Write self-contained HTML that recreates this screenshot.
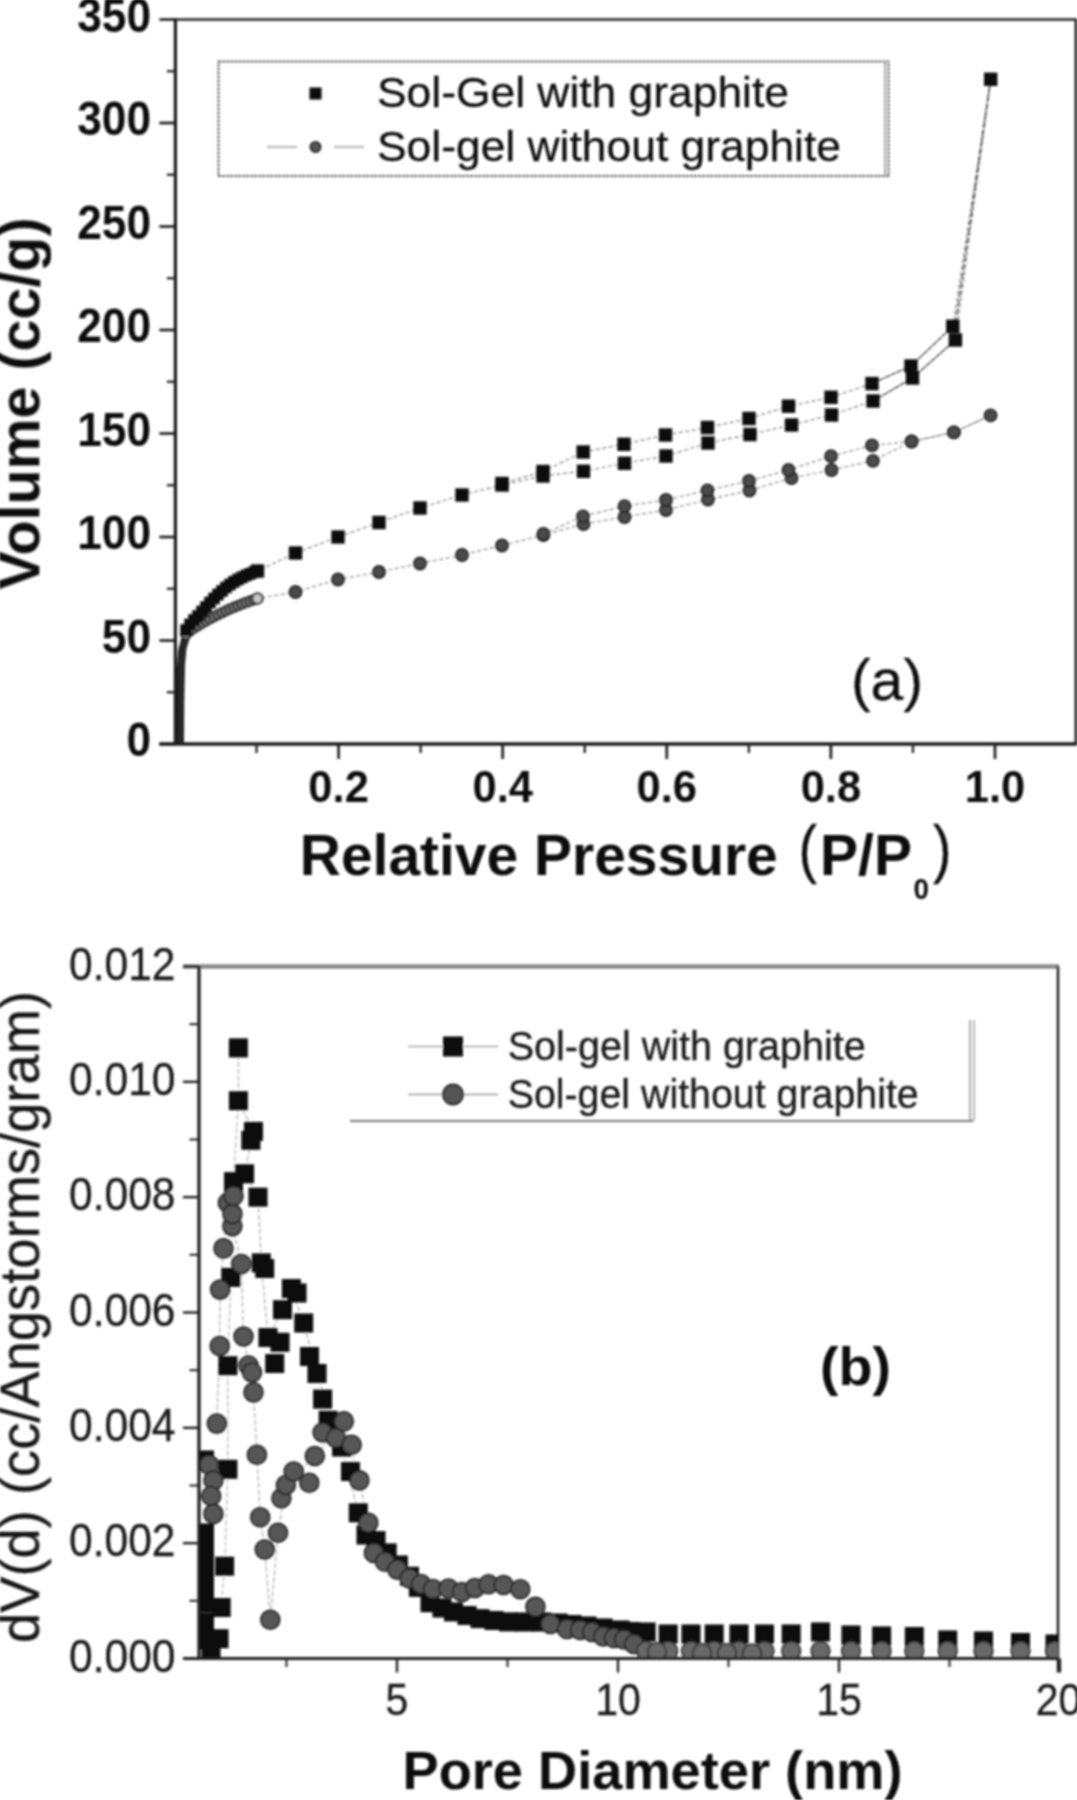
<!DOCTYPE html>
<html lang="en">
<head>
<meta charset="utf-8">
<title>Nitrogen sorption isotherms and pore size distribution</title>
<style>
html, body { margin: 0; padding: 0; background: #ffffff; }
body { width: 1077px; height: 1800px; overflow: hidden; }
svg { display: block; font-family: "Liberation Sans", Arial, Helvetica, sans-serif; }
</style>
</head>
<body>
<svg width="1077" height="1800" viewBox="0 0 1077 1800">
<defs><filter id="soft" x="0" y="0" width="1077" height="1800" filterUnits="userSpaceOnUse"><feGaussianBlur stdDeviation="1"/></filter></defs>
<rect x="0" y="0" width="1077" height="1800" fill="#ffffff"/>
<g filter="url(#soft)">
<g id="chart-a">
<line x1="175.4" y1="19.5" x2="1077.0" y2="19.5" stroke="#2a2a2a" stroke-width="2.6"/>
<line x1="1076.0" y1="19.5" x2="1076.0" y2="744.0" stroke="#2a2a2a" stroke-width="3"/>
<line x1="175.4" y1="18.5" x2="175.4" y2="745.0" stroke="#1a1a1a" stroke-width="3.2"/>
<line x1="159.4" y1="744.0" x2="1077.0" y2="744.0" stroke="#1a1a1a" stroke-width="3.4"/>
<line x1="159.4" y1="744.0" x2="175.4" y2="744.0" stroke="#1a1a1a" stroke-width="2.6"/>
<line x1="166.9" y1="692.25" x2="175.4" y2="692.25" stroke="#2a2a2a" stroke-width="2.4"/>
<line x1="159.4" y1="640.5" x2="175.4" y2="640.5" stroke="#1a1a1a" stroke-width="2.6"/>
<line x1="166.9" y1="588.75" x2="175.4" y2="588.75" stroke="#2a2a2a" stroke-width="2.4"/>
<line x1="159.4" y1="537.0" x2="175.4" y2="537.0" stroke="#1a1a1a" stroke-width="2.6"/>
<line x1="166.9" y1="485.25" x2="175.4" y2="485.25" stroke="#2a2a2a" stroke-width="2.4"/>
<line x1="159.4" y1="433.5" x2="175.4" y2="433.5" stroke="#1a1a1a" stroke-width="2.6"/>
<line x1="166.9" y1="381.75" x2="175.4" y2="381.75" stroke="#2a2a2a" stroke-width="2.4"/>
<line x1="159.4" y1="330.00000000000006" x2="175.4" y2="330.00000000000006" stroke="#1a1a1a" stroke-width="2.6"/>
<line x1="166.9" y1="278.25000000000006" x2="175.4" y2="278.25000000000006" stroke="#2a2a2a" stroke-width="2.4"/>
<line x1="159.4" y1="226.5" x2="175.4" y2="226.5" stroke="#1a1a1a" stroke-width="2.6"/>
<line x1="166.9" y1="174.75" x2="175.4" y2="174.75" stroke="#2a2a2a" stroke-width="2.4"/>
<line x1="159.4" y1="123.0" x2="175.4" y2="123.0" stroke="#1a1a1a" stroke-width="2.6"/>
<line x1="166.9" y1="71.25" x2="175.4" y2="71.25" stroke="#2a2a2a" stroke-width="2.4"/>
<line x1="159.4" y1="19.5" x2="175.4" y2="19.5" stroke="#1a1a1a" stroke-width="2.6"/>
<line x1="256.55" y1="744.0" x2="256.55" y2="753.0" stroke="#2a2a2a" stroke-width="2.4"/>
<line x1="338.6" y1="744.0" x2="338.6" y2="759.0" stroke="#1a1a1a" stroke-width="2.6"/>
<line x1="420.65" y1="744.0" x2="420.65" y2="753.0" stroke="#2a2a2a" stroke-width="2.4"/>
<line x1="502.70000000000005" y1="744.0" x2="502.70000000000005" y2="759.0" stroke="#1a1a1a" stroke-width="2.6"/>
<line x1="584.75" y1="744.0" x2="584.75" y2="753.0" stroke="#2a2a2a" stroke-width="2.4"/>
<line x1="666.8" y1="744.0" x2="666.8" y2="759.0" stroke="#1a1a1a" stroke-width="2.6"/>
<line x1="748.8499999999999" y1="744.0" x2="748.8499999999999" y2="753.0" stroke="#2a2a2a" stroke-width="2.4"/>
<line x1="830.9000000000001" y1="744.0" x2="830.9000000000001" y2="759.0" stroke="#1a1a1a" stroke-width="2.6"/>
<line x1="912.95" y1="744.0" x2="912.95" y2="753.0" stroke="#2a2a2a" stroke-width="2.4"/>
<line x1="995.0" y1="744.0" x2="995.0" y2="759.0" stroke="#1a1a1a" stroke-width="2.6"/>
<text x="151" y="756.0" font-size="48" font-weight="bold" text-anchor="end" textLength="24.6" lengthAdjust="spacingAndGlyphs" fill="#111" stroke="#111" stroke-width="0">0</text>
<text x="151" y="652.5" font-size="48" font-weight="bold" text-anchor="end" textLength="49.2" lengthAdjust="spacingAndGlyphs" fill="#111" stroke="#111" stroke-width="0">50</text>
<text x="151" y="549.0" font-size="48" font-weight="bold" text-anchor="end" textLength="73.8" lengthAdjust="spacingAndGlyphs" fill="#111" stroke="#111" stroke-width="0">100</text>
<text x="151" y="445.5" font-size="48" font-weight="bold" text-anchor="end" textLength="73.8" lengthAdjust="spacingAndGlyphs" fill="#111" stroke="#111" stroke-width="0">150</text>
<text x="151" y="342.00000000000006" font-size="48" font-weight="bold" text-anchor="end" textLength="73.8" lengthAdjust="spacingAndGlyphs" fill="#111" stroke="#111" stroke-width="0">200</text>
<text x="151" y="238.5" font-size="48" font-weight="bold" text-anchor="end" textLength="73.8" lengthAdjust="spacingAndGlyphs" fill="#111" stroke="#111" stroke-width="0">250</text>
<text x="151" y="135.0" font-size="48" font-weight="bold" text-anchor="end" textLength="73.8" lengthAdjust="spacingAndGlyphs" fill="#111" stroke="#111" stroke-width="0">300</text>
<text x="151" y="31.5" font-size="48" font-weight="bold" text-anchor="end" textLength="73.8" lengthAdjust="spacingAndGlyphs" fill="#111" stroke="#111" stroke-width="0">350</text>
<text x="338.6" y="801.5" font-size="44.5" font-weight="bold" text-anchor="middle" textLength="60.5" lengthAdjust="spacingAndGlyphs" fill="#111" stroke="#111" stroke-width="0">0.2</text>
<text x="502.70000000000005" y="801.5" font-size="44.5" font-weight="bold" text-anchor="middle" textLength="60.5" lengthAdjust="spacingAndGlyphs" fill="#111" stroke="#111" stroke-width="0">0.4</text>
<text x="666.8" y="801.5" font-size="44.5" font-weight="bold" text-anchor="middle" textLength="60.5" lengthAdjust="spacingAndGlyphs" fill="#111" stroke="#111" stroke-width="0">0.6</text>
<text x="830.9000000000001" y="801.5" font-size="44.5" font-weight="bold" text-anchor="middle" textLength="60.5" lengthAdjust="spacingAndGlyphs" fill="#111" stroke="#111" stroke-width="0">0.8</text>
<text x="995.0" y="801.5" font-size="44.5" font-weight="bold" text-anchor="middle" textLength="60.5" lengthAdjust="spacingAndGlyphs" fill="#111" stroke="#111" stroke-width="0">1.0</text>
<text transform="translate(39.3,403.5) rotate(-90)" font-size="57" textLength="372" lengthAdjust="spacingAndGlyphs" font-weight="bold" text-anchor="middle" fill="#111" stroke="none">Volume (cc/g)</text>
<text x="299.8" y="875" font-size="57" font-weight="bold" textLength="478" lengthAdjust="spacingAndGlyphs" fill="#111" stroke="#111" stroke-width="0">Relative Pressure</text>
<text x="798.5" y="871" font-size="64" textLength="18.5" lengthAdjust="spacingAndGlyphs" fill="#111" stroke="#111" stroke-width="0.3">(</text>
<text x="820" y="875" font-size="57" font-weight="bold" textLength="92" lengthAdjust="spacingAndGlyphs" fill="#111" stroke="#111" stroke-width="0">P/P</text>
<text x="913.5" y="898.5" font-size="30" font-weight="bold" textLength="15.5" lengthAdjust="spacingAndGlyphs" fill="#111" stroke="#111" stroke-width="0">0</text>
<text x="933" y="871" font-size="64" textLength="18.5" lengthAdjust="spacingAndGlyphs" fill="#111" stroke="#111" stroke-width="0.3">)</text>
<text x="851" y="699.5" font-size="57" textLength="72" lengthAdjust="spacingAndGlyphs" fill="#111" stroke="#111" stroke-width="0.3">(a)</text>
<rect x="218.5" y="61.5" width="670" height="114.5" fill="none" stroke="#6a6a6a" stroke-width="2" stroke-dasharray="3 1"/>
<line x1="885" y1="61.5" x2="885" y2="176" stroke="#aaa" stroke-width="2"/>
<rect x="309.5" y="87.5" width="12" height="12" fill="#0a0a0a"/>
<line x1="267" y1="147" x2="297" y2="147" stroke="#bbb" stroke-width="2.2"/>
<line x1="334" y1="147" x2="364" y2="147" stroke="#bbb" stroke-width="2.2"/>
<circle cx="315.5" cy="147.0" r="5.2" fill="#555" stroke="#222" stroke-width="1.6"/>
<text x="377" y="107" font-size="42.5" textLength="412" lengthAdjust="spacingAndGlyphs" fill="#111" stroke="#111" stroke-width="0.3">Sol-Gel with graphite</text>
<text x="377" y="160.5" font-size="42.5" textLength="464" lengthAdjust="spacingAndGlyphs" fill="#111" stroke="#111" stroke-width="0.3">Sol-gel without graphite</text>
<g id="series-a">
<polyline points="186.0,630.0 190.0,624.5 194.0,620.0 198.0,616.0 202.0,611.5 206.0,607.0 210.0,602.5 214.0,598.5 218.0,594.5 222.0,591.0 226.0,587.5 230.0,584.5 234.0,581.8 238.0,579.5 242.0,577.4 246.0,575.5 250.0,573.8 254.0,572.3 257.5,571.0 295.5,553.0 338.0,537.0 379.0,522.5 420.0,508.0 462.0,495.0 502.0,485.0 543.0,476.0 583.5,471.3 624.5,463.3 666.0,456.0 708.0,443.0 750.0,434.5 791.5,425.0 831.5,415.0 873.0,401.0 912.5,378.0 955.4,340.0 990.7,79.3" fill="none" stroke="#444" stroke-width="1.2" stroke-dasharray="4 2.5" opacity="0.65"/>
<polyline points="990.7,79.3 952.8,326.3 911.0,366.0 872.0,383.6 831.0,397.3 788.5,406.2 749.0,418.5 707.5,427.5 665.5,435.0 624.0,444.3 583.2,452.0 543.0,471.5 502.0,483.5" fill="none" stroke="#444" stroke-width="1.2" stroke-dasharray="4 2.5" opacity="0.65"/>
<polyline points="954.2,333.0 990.7,79.3" fill="none" stroke="#333" stroke-width="1.5" stroke-dasharray="7 2" opacity="0.8"/>
<polyline points="873.0,401.0 912.5,378.0 955.4,340.0" fill="none" stroke="#333" stroke-width="1.1" opacity="0.75"/>
<polyline points="872.0,383.6 911.0,366.0 952.8,326.3" fill="none" stroke="#333" stroke-width="1.1" opacity="0.75"/>
<polyline points="186.0,634.5 190.0,631.0 194.0,628.2 198.0,625.6 202.0,623.2 206.0,621.0 210.0,618.8 214.0,616.7 218.0,614.6 222.0,612.6 226.0,610.7 230.0,608.9 234.0,607.2 238.0,605.6 242.0,604.0 246.0,602.5 250.0,601.0 254.0,599.7 257.5,598.5 295.5,592.0 338.0,579.5 379.0,572.0 420.0,563.5 462.0,555.0 502.0,545.5 543.4,535.0 583.5,524.0 624.5,517.0 666.0,510.0 708.0,499.5 749.5,490.5 791.5,478.0 831.5,470.0 873.0,460.8 911.6,441.5 953.9,432.3 990.6,415.4" fill="none" stroke="#555" stroke-width="1.2" stroke-dasharray="4 2.5" opacity="0.65"/>
<polyline points="990.6,415.4 953.9,432.3 911.6,441.5 872.0,445.4 831.0,456.2 788.5,470.0 749.0,481.0 707.5,490.3 666.0,500.0 624.5,506.2 583.0,516.3 543.4,534.0" fill="none" stroke="#555" stroke-width="1.2" stroke-dasharray="4 2.5" opacity="0.65"/>
<polyline points="179.6,743.0 179.8,700.0 180.2,668.0 181.5,650.0 184.5,639.0 188.0,632.0" fill="none" stroke="#1c1c1c" stroke-width="6.5" opacity="1"/>
<polyline points="181.0,743.0 181.3,700.0 182.0,665.0 183.5,648.0 187.0,637.0" fill="none" stroke="#262626" stroke-width="6" opacity="1"/>
<circle cx="186.0" cy="634.5" r="4.8" fill="#707070" stroke="#2a2a2a" stroke-width="1.8"/>
<circle cx="190.0" cy="631.0" r="4.8" fill="#707070" stroke="#2a2a2a" stroke-width="1.8"/>
<circle cx="194.0" cy="628.2" r="4.8" fill="#707070" stroke="#2a2a2a" stroke-width="1.8"/>
<circle cx="198.0" cy="625.6" r="4.8" fill="#707070" stroke="#2a2a2a" stroke-width="1.8"/>
<circle cx="202.0" cy="623.2" r="4.8" fill="#707070" stroke="#2a2a2a" stroke-width="1.8"/>
<circle cx="206.0" cy="621.0" r="4.8" fill="#707070" stroke="#2a2a2a" stroke-width="1.8"/>
<circle cx="210.0" cy="618.8" r="4.8" fill="#707070" stroke="#2a2a2a" stroke-width="1.8"/>
<circle cx="214.0" cy="616.7" r="4.8" fill="#707070" stroke="#2a2a2a" stroke-width="1.8"/>
<circle cx="218.0" cy="614.6" r="4.8" fill="#707070" stroke="#2a2a2a" stroke-width="1.8"/>
<circle cx="222.0" cy="612.6" r="4.8" fill="#707070" stroke="#2a2a2a" stroke-width="1.8"/>
<circle cx="226.0" cy="610.7" r="4.8" fill="#707070" stroke="#2a2a2a" stroke-width="1.8"/>
<circle cx="230.0" cy="608.9" r="4.8" fill="#707070" stroke="#2a2a2a" stroke-width="1.8"/>
<circle cx="234.0" cy="607.2" r="4.8" fill="#707070" stroke="#2a2a2a" stroke-width="1.8"/>
<circle cx="238.0" cy="605.6" r="4.8" fill="#707070" stroke="#2a2a2a" stroke-width="1.8"/>
<circle cx="242.0" cy="604.0" r="4.8" fill="#707070" stroke="#2a2a2a" stroke-width="1.8"/>
<circle cx="246.0" cy="602.5" r="4.8" fill="#707070" stroke="#2a2a2a" stroke-width="1.8"/>
<circle cx="250.0" cy="601.0" r="4.8" fill="#707070" stroke="#2a2a2a" stroke-width="1.8"/>
<circle cx="254.0" cy="599.7" r="4.8" fill="#707070" stroke="#2a2a2a" stroke-width="1.8"/>
<circle cx="257.5" cy="598.5" r="5.2" fill="#c8c8c8" stroke="#333" stroke-width="2"/>
<circle cx="295.5" cy="592.0" r="6.0" fill="#4c4c4c" stroke="#262626" stroke-width="1.8"/>
<circle cx="338.0" cy="579.5" r="6.0" fill="#4c4c4c" stroke="#262626" stroke-width="1.8"/>
<circle cx="379.0" cy="572.0" r="6.0" fill="#4c4c4c" stroke="#262626" stroke-width="1.8"/>
<circle cx="420.0" cy="563.5" r="6.0" fill="#4c4c4c" stroke="#262626" stroke-width="1.8"/>
<circle cx="462.0" cy="555.0" r="6.0" fill="#4c4c4c" stroke="#262626" stroke-width="1.8"/>
<circle cx="502.0" cy="545.5" r="6.0" fill="#4c4c4c" stroke="#262626" stroke-width="1.8"/>
<circle cx="543.4" cy="535.0" r="6.0" fill="#4c4c4c" stroke="#262626" stroke-width="1.8"/>
<circle cx="583.5" cy="524.0" r="6.0" fill="#4c4c4c" stroke="#262626" stroke-width="1.8"/>
<circle cx="624.5" cy="517.0" r="6.0" fill="#4c4c4c" stroke="#262626" stroke-width="1.8"/>
<circle cx="666.0" cy="510.0" r="6.0" fill="#4c4c4c" stroke="#262626" stroke-width="1.8"/>
<circle cx="708.0" cy="499.5" r="6.0" fill="#4c4c4c" stroke="#262626" stroke-width="1.8"/>
<circle cx="749.5" cy="490.5" r="6.0" fill="#4c4c4c" stroke="#262626" stroke-width="1.8"/>
<circle cx="791.5" cy="478.0" r="6.0" fill="#4c4c4c" stroke="#262626" stroke-width="1.8"/>
<circle cx="831.5" cy="470.0" r="6.0" fill="#4c4c4c" stroke="#262626" stroke-width="1.8"/>
<circle cx="873.0" cy="460.8" r="6.0" fill="#4c4c4c" stroke="#262626" stroke-width="1.8"/>
<circle cx="911.6" cy="441.5" r="6.0" fill="#4c4c4c" stroke="#262626" stroke-width="1.8"/>
<circle cx="953.9" cy="432.3" r="6.0" fill="#4c4c4c" stroke="#262626" stroke-width="1.8"/>
<circle cx="990.6" cy="415.4" r="6.0" fill="#4c4c4c" stroke="#262626" stroke-width="1.8"/>
<circle cx="953.9" cy="432.3" r="6.0" fill="#4c4c4c" stroke="#262626" stroke-width="1.8"/>
<circle cx="911.6" cy="441.5" r="6.0" fill="#4c4c4c" stroke="#262626" stroke-width="1.8"/>
<circle cx="872.0" cy="445.4" r="6.0" fill="#4c4c4c" stroke="#262626" stroke-width="1.8"/>
<circle cx="831.0" cy="456.2" r="6.0" fill="#4c4c4c" stroke="#262626" stroke-width="1.8"/>
<circle cx="788.5" cy="470.0" r="6.0" fill="#4c4c4c" stroke="#262626" stroke-width="1.8"/>
<circle cx="749.0" cy="481.0" r="6.0" fill="#4c4c4c" stroke="#262626" stroke-width="1.8"/>
<circle cx="707.5" cy="490.3" r="6.0" fill="#4c4c4c" stroke="#262626" stroke-width="1.8"/>
<circle cx="666.0" cy="500.0" r="6.0" fill="#4c4c4c" stroke="#262626" stroke-width="1.8"/>
<circle cx="624.5" cy="506.2" r="6.0" fill="#4c4c4c" stroke="#262626" stroke-width="1.8"/>
<circle cx="583.0" cy="516.3" r="6.0" fill="#4c4c4c" stroke="#262626" stroke-width="1.8"/>
<circle cx="543.4" cy="534.0" r="6.0" fill="#4c4c4c" stroke="#262626" stroke-width="1.8"/>
<rect x="180.2" y="624.2" width="11.6" height="11.6" fill="#0a0a0a"/>
<rect x="184.2" y="618.7" width="11.6" height="11.6" fill="#0a0a0a"/>
<rect x="188.2" y="614.2" width="11.6" height="11.6" fill="#0a0a0a"/>
<rect x="192.2" y="610.2" width="11.6" height="11.6" fill="#0a0a0a"/>
<rect x="196.2" y="605.7" width="11.6" height="11.6" fill="#0a0a0a"/>
<rect x="200.2" y="601.2" width="11.6" height="11.6" fill="#0a0a0a"/>
<rect x="204.2" y="596.7" width="11.6" height="11.6" fill="#0a0a0a"/>
<rect x="208.2" y="592.7" width="11.6" height="11.6" fill="#0a0a0a"/>
<rect x="212.2" y="588.7" width="11.6" height="11.6" fill="#0a0a0a"/>
<rect x="216.2" y="585.2" width="11.6" height="11.6" fill="#0a0a0a"/>
<rect x="220.2" y="581.7" width="11.6" height="11.6" fill="#0a0a0a"/>
<rect x="224.2" y="578.7" width="11.6" height="11.6" fill="#0a0a0a"/>
<rect x="228.2" y="576.0" width="11.6" height="11.6" fill="#0a0a0a"/>
<rect x="232.2" y="573.7" width="11.6" height="11.6" fill="#0a0a0a"/>
<rect x="236.2" y="571.6" width="11.6" height="11.6" fill="#0a0a0a"/>
<rect x="240.2" y="569.7" width="11.6" height="11.6" fill="#0a0a0a"/>
<rect x="244.2" y="568.0" width="11.6" height="11.6" fill="#0a0a0a"/>
<rect x="248.2" y="566.5" width="11.6" height="11.6" fill="#0a0a0a"/>
<rect x="250.8" y="564.3" width="13.4" height="13.4" fill="#0a0a0a"/>
<rect x="288.8" y="546.3" width="13.4" height="13.4" fill="#0a0a0a"/>
<rect x="331.3" y="530.3" width="13.4" height="13.4" fill="#0a0a0a"/>
<rect x="372.3" y="515.8" width="13.4" height="13.4" fill="#0a0a0a"/>
<rect x="413.3" y="501.3" width="13.4" height="13.4" fill="#0a0a0a"/>
<rect x="455.3" y="488.3" width="13.4" height="13.4" fill="#0a0a0a"/>
<rect x="495.3" y="478.3" width="13.4" height="13.4" fill="#0a0a0a"/>
<rect x="536.3" y="469.3" width="13.4" height="13.4" fill="#0a0a0a"/>
<rect x="576.8" y="464.6" width="13.4" height="13.4" fill="#0a0a0a"/>
<rect x="617.8" y="456.6" width="13.4" height="13.4" fill="#0a0a0a"/>
<rect x="659.3" y="449.3" width="13.4" height="13.4" fill="#0a0a0a"/>
<rect x="701.3" y="436.3" width="13.4" height="13.4" fill="#0a0a0a"/>
<rect x="743.3" y="427.8" width="13.4" height="13.4" fill="#0a0a0a"/>
<rect x="784.8" y="418.3" width="13.4" height="13.4" fill="#0a0a0a"/>
<rect x="824.8" y="408.3" width="13.4" height="13.4" fill="#0a0a0a"/>
<rect x="866.3" y="394.3" width="13.4" height="13.4" fill="#0a0a0a"/>
<rect x="905.8" y="371.3" width="13.4" height="13.4" fill="#0a0a0a"/>
<rect x="948.7" y="333.3" width="13.4" height="13.4" fill="#0a0a0a"/>
<rect x="984.0" y="72.6" width="13.4" height="13.4" fill="#0a0a0a"/>
<rect x="946.1" y="319.6" width="13.4" height="13.4" fill="#0a0a0a"/>
<rect x="904.3" y="359.3" width="13.4" height="13.4" fill="#0a0a0a"/>
<rect x="865.3" y="376.9" width="13.4" height="13.4" fill="#0a0a0a"/>
<rect x="824.3" y="390.6" width="13.4" height="13.4" fill="#0a0a0a"/>
<rect x="781.8" y="399.5" width="13.4" height="13.4" fill="#0a0a0a"/>
<rect x="742.3" y="411.8" width="13.4" height="13.4" fill="#0a0a0a"/>
<rect x="700.8" y="420.8" width="13.4" height="13.4" fill="#0a0a0a"/>
<rect x="658.8" y="428.3" width="13.4" height="13.4" fill="#0a0a0a"/>
<rect x="617.3" y="437.6" width="13.4" height="13.4" fill="#0a0a0a"/>
<rect x="576.5" y="445.3" width="13.4" height="13.4" fill="#0a0a0a"/>
<rect x="536.3" y="464.8" width="13.4" height="13.4" fill="#0a0a0a"/>
<rect x="495.3" y="476.8" width="13.4" height="13.4" fill="#0a0a0a"/>
</g>
</g>
<g id="chart-b">
<line x1="183.0" y1="966.5" x2="1059.0" y2="966.5" stroke="#8a8a8a" stroke-width="4.4"/>
<line x1="1058.0" y1="966.5" x2="1058.0" y2="1672.5" stroke="#222" stroke-width="2.6"/>
<line x1="199.0" y1="966.5" x2="199.0" y2="1659.5" stroke="#222" stroke-width="2.8"/>
<line x1="183.0" y1="1658.5" x2="1059.0" y2="1658.5" stroke="#222" stroke-width="2.8"/>
<line x1="183.0" y1="1658.5" x2="199.0" y2="1658.5" stroke="#222" stroke-width="2.4"/>
<line x1="189.5" y1="1600.8333333333333" x2="199.0" y2="1600.8333333333333" stroke="#333" stroke-width="2.2"/>
<line x1="183.0" y1="1543.1666666666667" x2="199.0" y2="1543.1666666666667" stroke="#222" stroke-width="2.4"/>
<line x1="189.5" y1="1485.5" x2="199.0" y2="1485.5" stroke="#333" stroke-width="2.2"/>
<line x1="183.0" y1="1427.8333333333333" x2="199.0" y2="1427.8333333333333" stroke="#222" stroke-width="2.4"/>
<line x1="189.5" y1="1370.1666666666667" x2="199.0" y2="1370.1666666666667" stroke="#333" stroke-width="2.2"/>
<line x1="183.0" y1="1312.5" x2="199.0" y2="1312.5" stroke="#222" stroke-width="2.4"/>
<line x1="189.5" y1="1254.8333333333333" x2="199.0" y2="1254.8333333333333" stroke="#333" stroke-width="2.2"/>
<line x1="183.0" y1="1197.1666666666667" x2="199.0" y2="1197.1666666666667" stroke="#222" stroke-width="2.4"/>
<line x1="189.5" y1="1139.5" x2="199.0" y2="1139.5" stroke="#333" stroke-width="2.2"/>
<line x1="183.0" y1="1081.8333333333335" x2="199.0" y2="1081.8333333333335" stroke="#222" stroke-width="2.4"/>
<line x1="189.5" y1="1024.1666666666667" x2="199.0" y2="1024.1666666666667" stroke="#333" stroke-width="2.2"/>
<line x1="183.0" y1="966.5" x2="199.0" y2="966.5" stroke="#222" stroke-width="2.4"/>
<line x1="286.5" y1="1658.5" x2="286.5" y2="1667.0" stroke="#333" stroke-width="2.2"/>
<line x1="397.0" y1="1658.5" x2="397.0" y2="1672.5" stroke="#222" stroke-width="2.4"/>
<line x1="507.5" y1="1658.5" x2="507.5" y2="1667.0" stroke="#333" stroke-width="2.2"/>
<line x1="618.0" y1="1658.5" x2="618.0" y2="1672.5" stroke="#222" stroke-width="2.4"/>
<line x1="728.5" y1="1658.5" x2="728.5" y2="1667.0" stroke="#333" stroke-width="2.2"/>
<line x1="839.0" y1="1658.5" x2="839.0" y2="1672.5" stroke="#222" stroke-width="2.4"/>
<line x1="949.5" y1="1658.5" x2="949.5" y2="1667.0" stroke="#333" stroke-width="2.2"/>
<line x1="1060.0" y1="1658.5" x2="1060.0" y2="1672.5" stroke="#222" stroke-width="2.4"/>
<text x="175.5" y="1671.5" font-size="46.5" text-anchor="end" textLength="106.5" lengthAdjust="spacingAndGlyphs" fill="#1a1a1a" stroke="#1a1a1a" stroke-width="0.3">0.000</text>
<text x="175.5" y="1556.1666666666667" font-size="46.5" text-anchor="end" textLength="106.5" lengthAdjust="spacingAndGlyphs" fill="#1a1a1a" stroke="#1a1a1a" stroke-width="0.3">0.002</text>
<text x="175.5" y="1440.8333333333333" font-size="46.5" text-anchor="end" textLength="106.5" lengthAdjust="spacingAndGlyphs" fill="#1a1a1a" stroke="#1a1a1a" stroke-width="0.3">0.004</text>
<text x="175.5" y="1325.5" font-size="46.5" text-anchor="end" textLength="106.5" lengthAdjust="spacingAndGlyphs" fill="#1a1a1a" stroke="#1a1a1a" stroke-width="0.3">0.006</text>
<text x="175.5" y="1210.1666666666667" font-size="46.5" text-anchor="end" textLength="106.5" lengthAdjust="spacingAndGlyphs" fill="#1a1a1a" stroke="#1a1a1a" stroke-width="0.3">0.008</text>
<text x="175.5" y="1094.8333333333335" font-size="46.5" text-anchor="end" textLength="106.5" lengthAdjust="spacingAndGlyphs" fill="#1a1a1a" stroke="#1a1a1a" stroke-width="0.3">0.010</text>
<text x="175.5" y="979.5" font-size="46.5" text-anchor="end" textLength="106.5" lengthAdjust="spacingAndGlyphs" fill="#1a1a1a" stroke="#1a1a1a" stroke-width="0.3">0.012</text>
<text x="397.0" y="1714.5" font-size="45" text-anchor="middle" textLength="22.8" lengthAdjust="spacingAndGlyphs" fill="#1a1a1a" stroke="#1a1a1a" stroke-width="0.3">5</text>
<text x="618.0" y="1714.5" font-size="45" text-anchor="middle" textLength="45.6" lengthAdjust="spacingAndGlyphs" fill="#1a1a1a" stroke="#1a1a1a" stroke-width="0.3">10</text>
<text x="839.0" y="1714.5" font-size="45" text-anchor="middle" textLength="45.6" lengthAdjust="spacingAndGlyphs" fill="#1a1a1a" stroke="#1a1a1a" stroke-width="0.3">15</text>
<text x="1058.5" y="1714.5" font-size="45" text-anchor="middle" textLength="45.6" lengthAdjust="spacingAndGlyphs" fill="#1a1a1a" stroke="#1a1a1a" stroke-width="0.3">20</text>
<text transform="translate(38.7,1317) rotate(-90)" font-size="56" textLength="652" lengthAdjust="spacingAndGlyphs" text-anchor="middle" fill="#161616" stroke="#161616" stroke-width="0.3">dV(d) (cc/Angstorms/gram)</text>
<text x="402.5" y="1789" font-size="53" font-weight="bold" textLength="500" lengthAdjust="spacingAndGlyphs" fill="#111" stroke="#111" stroke-width="0">Pore Diameter (nm)</text>
<text x="820" y="1385" font-size="54" font-weight="bold" textLength="71" lengthAdjust="spacingAndGlyphs" fill="#111" stroke="#111" stroke-width="0">(b)</text>
<line x1="350" y1="1121" x2="973" y2="1121" stroke="#777" stroke-width="2"/>
<line x1="970" y1="1020" x2="970" y2="1121" stroke="#a0a0a0" stroke-width="1.8"/>
<line x1="974" y1="1020" x2="974" y2="1121" stroke="#b0b0b0" stroke-width="1.8"/>
<line x1="408" y1="1046.5" x2="498" y2="1046.5" stroke="#bcbcbc" stroke-width="1.8"/>
<line x1="408" y1="1094.5" x2="498" y2="1094.5" stroke="#b0b0b0" stroke-width="1.8"/>
<rect x="443.0" y="1036.5" width="20" height="20" fill="#0a0a0a"/>
<circle cx="453.0" cy="1094.5" r="10" fill="#555" stroke="#2a2a2a" stroke-width="1.8"/>
<text x="507.7" y="1059.5" font-size="41" textLength="358" lengthAdjust="spacingAndGlyphs" fill="#1a1a1a" stroke="#1a1a1a" stroke-width="0.3">Sol-gel with graphite</text>
<text x="507.7" y="1107.5" font-size="41" textLength="411" lengthAdjust="spacingAndGlyphs" fill="#1a1a1a" stroke="#1a1a1a" stroke-width="0.3">Sol-gel without graphite</text>
<clipPath id="clip-b"><rect x="198" y="968" width="860" height="690.5"/></clipPath>
<g id="series-b" clip-path="url(#clip-b)">
<polyline points="238.4,1047.9 238.4,1100.7 253.5,1131.4 244.6,1173.8 258.0,1197.2 261.3,1262.9 268.0,1337.5 282.5,1309.7 291.4,1288.5 303.7,1323.0 317.0,1373.5 341.6,1447.0 358.3,1512.8 398.4,1565.0" fill="none" stroke="#777" stroke-width="1.2" stroke-dasharray="5 2" opacity="0.6"/>
<polyline points="238.4,1100.7 233.5,1181.6 230.8,1277.4 227.9,1365.7 227.9,1469.3 224.6,1566.2 221.2,1607.5" fill="none" stroke="#888" stroke-width="1.2" stroke-dasharray="5 2" opacity="0.6"/>
<polyline points="216.8,1423.6 219.7,1346.0 220.1,1289.6 223.5,1248.4 227.9,1202.7 241.3,1264.0 243.5,1336.5 253.5,1392.4 256.9,1454.8 260.2,1517.2 264.7,1549.5 270.3,1619.7 278.0,1532.8 285.9,1485.0 314.8,1456.0 343.8,1421.4 359.4,1480.4 373.9,1552.9" fill="none" stroke="#777" stroke-width="1.2" stroke-dasharray="5 2" opacity="0.6"/>
<rect x="201.5" y="1644.5" width="19" height="19" fill="#0a0a0a"/>
<rect x="195.0" y="1630.5" width="19" height="19" fill="#0a0a0a"/>
<rect x="209.5" y="1629.2" width="19" height="19" fill="#0a0a0a"/>
<rect x="195.0" y="1612.5" width="19" height="19" fill="#0a0a0a"/>
<rect x="211.7" y="1598.0" width="19" height="19" fill="#0a0a0a"/>
<rect x="195.0" y="1593.5" width="19" height="19" fill="#0a0a0a"/>
<rect x="195.0" y="1575.5" width="19" height="19" fill="#0a0a0a"/>
<rect x="215.1" y="1556.7" width="19" height="19" fill="#0a0a0a"/>
<rect x="195.0" y="1557.5" width="19" height="19" fill="#0a0a0a"/>
<rect x="195.0" y="1539.5" width="19" height="19" fill="#0a0a0a"/>
<rect x="195.0" y="1523.5" width="19" height="19" fill="#0a0a0a"/>
<rect x="195.0" y="1450.5" width="19" height="19" fill="#0a0a0a"/>
<rect x="218.4" y="1459.8" width="19" height="19" fill="#0a0a0a"/>
<rect x="218.4" y="1356.2" width="19" height="19" fill="#0a0a0a"/>
<rect x="221.3" y="1267.9" width="19" height="19" fill="#0a0a0a"/>
<rect x="224.0" y="1172.1" width="19" height="19" fill="#0a0a0a"/>
<rect x="228.9" y="1091.2" width="19" height="19" fill="#0a0a0a"/>
<rect x="228.9" y="1038.4" width="19" height="19" fill="#0a0a0a"/>
<rect x="235.1" y="1164.3" width="19" height="19" fill="#0a0a0a"/>
<rect x="241.4" y="1130.8" width="19" height="19" fill="#0a0a0a"/>
<rect x="244.0" y="1121.9" width="19" height="19" fill="#0a0a0a"/>
<rect x="248.5" y="1187.7" width="19" height="19" fill="#0a0a0a"/>
<rect x="251.8" y="1253.4" width="19" height="19" fill="#0a0a0a"/>
<rect x="255.2" y="1259.0" width="19" height="19" fill="#0a0a0a"/>
<rect x="258.5" y="1328.0" width="19" height="19" fill="#0a0a0a"/>
<rect x="265.2" y="1354.0" width="19" height="19" fill="#0a0a0a"/>
<rect x="270.5" y="1332.8" width="19" height="19" fill="#0a0a0a"/>
<rect x="273.0" y="1300.2" width="19" height="19" fill="#0a0a0a"/>
<rect x="281.9" y="1279.0" width="19" height="19" fill="#0a0a0a"/>
<rect x="287.5" y="1283.5" width="19" height="19" fill="#0a0a0a"/>
<rect x="294.2" y="1313.5" width="19" height="19" fill="#0a0a0a"/>
<rect x="300.0" y="1347.0" width="19" height="19" fill="#0a0a0a"/>
<rect x="307.5" y="1364.0" width="19" height="19" fill="#0a0a0a"/>
<rect x="313.1" y="1389.6" width="19" height="19" fill="#0a0a0a"/>
<rect x="318.7" y="1410.8" width="19" height="19" fill="#0a0a0a"/>
<rect x="332.1" y="1437.5" width="19" height="19" fill="#0a0a0a"/>
<rect x="341.0" y="1462.0" width="19" height="19" fill="#0a0a0a"/>
<rect x="348.8" y="1503.3" width="19" height="19" fill="#0a0a0a"/>
<rect x="356.5" y="1525.5" width="19" height="19" fill="#0a0a0a"/>
<rect x="366.5" y="1531.1" width="19" height="19" fill="#0a0a0a"/>
<rect x="377.7" y="1543.4" width="19" height="19" fill="#0a0a0a"/>
<rect x="388.9" y="1555.5" width="19" height="19" fill="#0a0a0a"/>
<rect x="400.0" y="1566.8" width="19" height="19" fill="#0a0a0a"/>
<rect x="408.9" y="1577.9" width="19" height="19" fill="#0a0a0a"/>
<rect x="420.5" y="1593.2" width="19" height="19" fill="#0a0a0a"/>
<rect x="432.5" y="1598.5" width="19" height="19" fill="#0a0a0a"/>
<rect x="444.0" y="1602.4" width="19" height="19" fill="#0a0a0a"/>
<rect x="457.5" y="1606.0" width="19" height="19" fill="#0a0a0a"/>
<rect x="470.5" y="1609.1" width="19" height="19" fill="#0a0a0a"/>
<rect x="484.5" y="1611.0" width="19" height="19" fill="#0a0a0a"/>
<rect x="499.1" y="1612.4" width="19" height="19" fill="#0a0a0a"/>
<rect x="515.5" y="1612.5" width="19" height="19" fill="#0a0a0a"/>
<rect x="532.5" y="1612.5" width="19" height="19" fill="#0a0a0a"/>
<rect x="548.5" y="1613.5" width="19" height="19" fill="#0a0a0a"/>
<rect x="562.5" y="1615.0" width="19" height="19" fill="#0a0a0a"/>
<rect x="577.5" y="1616.5" width="19" height="19" fill="#0a0a0a"/>
<rect x="593.5" y="1618.5" width="19" height="19" fill="#0a0a0a"/>
<rect x="610.5" y="1620.5" width="19" height="19" fill="#0a0a0a"/>
<rect x="621.5" y="1622.0" width="19" height="19" fill="#0a0a0a"/>
<rect x="636.7" y="1622.5" width="19" height="19" fill="#0a0a0a"/>
<rect x="658.7" y="1624.5" width="19" height="19" fill="#0a0a0a"/>
<rect x="681.5" y="1624.5" width="19" height="19" fill="#0a0a0a"/>
<rect x="704.7" y="1624.5" width="19" height="19" fill="#0a0a0a"/>
<rect x="729.5" y="1624.5" width="19" height="19" fill="#0a0a0a"/>
<rect x="755.0" y="1624.5" width="19" height="19" fill="#0a0a0a"/>
<rect x="781.7" y="1624.5" width="19" height="19" fill="#0a0a0a"/>
<rect x="811.0" y="1622.5" width="19" height="19" fill="#0a0a0a"/>
<rect x="841.5" y="1625.5" width="19" height="19" fill="#0a0a0a"/>
<rect x="872.1" y="1626.5" width="19" height="19" fill="#0a0a0a"/>
<rect x="904.8" y="1627.0" width="19" height="19" fill="#0a0a0a"/>
<rect x="938.2" y="1630.5" width="19" height="19" fill="#0a0a0a"/>
<rect x="974.0" y="1631.5" width="19" height="19" fill="#0a0a0a"/>
<rect x="1011.0" y="1633.0" width="19" height="19" fill="#0a0a0a"/>
<rect x="1045.5" y="1634.5" width="19" height="19" fill="#0a0a0a"/>
<circle cx="209.0" cy="1464.8" r="9.4" fill="#565656" stroke="#262626" stroke-width="1.8"/>
<circle cx="213.4" cy="1480.4" r="9.4" fill="#565656" stroke="#262626" stroke-width="1.8"/>
<circle cx="211.2" cy="1496.0" r="9.4" fill="#565656" stroke="#262626" stroke-width="1.8"/>
<circle cx="213.4" cy="1513.9" r="9.4" fill="#565656" stroke="#262626" stroke-width="1.8"/>
<circle cx="216.8" cy="1423.6" r="9.4" fill="#565656" stroke="#262626" stroke-width="1.8"/>
<circle cx="219.7" cy="1346.0" r="9.4" fill="#565656" stroke="#262626" stroke-width="1.8"/>
<circle cx="220.1" cy="1289.6" r="9.4" fill="#565656" stroke="#262626" stroke-width="1.8"/>
<circle cx="223.5" cy="1248.4" r="9.4" fill="#565656" stroke="#262626" stroke-width="1.8"/>
<circle cx="227.9" cy="1202.7" r="9.4" fill="#565656" stroke="#262626" stroke-width="1.8"/>
<circle cx="232.4" cy="1226.1" r="9.4" fill="#565656" stroke="#262626" stroke-width="1.8"/>
<circle cx="232.4" cy="1213.9" r="9.4" fill="#565656" stroke="#262626" stroke-width="1.8"/>
<circle cx="233.5" cy="1196.0" r="9.4" fill="#565656" stroke="#262626" stroke-width="1.8"/>
<circle cx="241.3" cy="1264.0" r="9.4" fill="#565656" stroke="#262626" stroke-width="1.8"/>
<circle cx="243.5" cy="1336.5" r="9.4" fill="#565656" stroke="#262626" stroke-width="1.8"/>
<circle cx="248.5" cy="1365.5" r="9.4" fill="#565656" stroke="#262626" stroke-width="1.8"/>
<circle cx="252.0" cy="1372.5" r="9.4" fill="#565656" stroke="#262626" stroke-width="1.8"/>
<circle cx="253.5" cy="1392.4" r="9.4" fill="#565656" stroke="#262626" stroke-width="1.8"/>
<circle cx="256.9" cy="1454.8" r="9.4" fill="#565656" stroke="#262626" stroke-width="1.8"/>
<circle cx="260.2" cy="1517.2" r="9.4" fill="#565656" stroke="#262626" stroke-width="1.8"/>
<circle cx="264.7" cy="1549.5" r="9.4" fill="#565656" stroke="#262626" stroke-width="1.8"/>
<circle cx="270.3" cy="1619.7" r="9.4" fill="#565656" stroke="#262626" stroke-width="1.8"/>
<circle cx="278.0" cy="1532.8" r="9.4" fill="#565656" stroke="#262626" stroke-width="1.8"/>
<circle cx="281.4" cy="1498.3" r="9.4" fill="#565656" stroke="#262626" stroke-width="1.8"/>
<circle cx="285.9" cy="1485.0" r="9.4" fill="#565656" stroke="#262626" stroke-width="1.8"/>
<circle cx="293.7" cy="1471.5" r="9.4" fill="#565656" stroke="#262626" stroke-width="1.8"/>
<circle cx="309.3" cy="1482.7" r="9.4" fill="#565656" stroke="#262626" stroke-width="1.8"/>
<circle cx="314.8" cy="1456.0" r="9.4" fill="#565656" stroke="#262626" stroke-width="1.8"/>
<circle cx="322.6" cy="1432.5" r="9.4" fill="#565656" stroke="#262626" stroke-width="1.8"/>
<circle cx="336.0" cy="1438.0" r="9.4" fill="#565656" stroke="#262626" stroke-width="1.8"/>
<circle cx="343.8" cy="1421.4" r="9.4" fill="#565656" stroke="#262626" stroke-width="1.8"/>
<circle cx="351.6" cy="1444.8" r="9.4" fill="#565656" stroke="#262626" stroke-width="1.8"/>
<circle cx="359.4" cy="1480.4" r="9.4" fill="#565656" stroke="#262626" stroke-width="1.8"/>
<circle cx="368.3" cy="1522.8" r="9.4" fill="#565656" stroke="#262626" stroke-width="1.8"/>
<circle cx="373.9" cy="1552.9" r="9.4" fill="#565656" stroke="#262626" stroke-width="1.8"/>
<circle cx="385.0" cy="1561.8" r="9.4" fill="#565656" stroke="#262626" stroke-width="1.8"/>
<circle cx="397.3" cy="1569.6" r="9.4" fill="#565656" stroke="#262626" stroke-width="1.8"/>
<circle cx="409.5" cy="1578.5" r="9.4" fill="#565656" stroke="#262626" stroke-width="1.8"/>
<circle cx="421.0" cy="1584.0" r="9.4" fill="#565656" stroke="#262626" stroke-width="1.8"/>
<circle cx="433.0" cy="1589.0" r="9.4" fill="#565656" stroke="#262626" stroke-width="1.8"/>
<circle cx="448.5" cy="1588.5" r="9.4" fill="#565656" stroke="#262626" stroke-width="1.8"/>
<circle cx="462.0" cy="1592.0" r="9.4" fill="#565656" stroke="#262626" stroke-width="1.8"/>
<circle cx="475.0" cy="1588.0" r="9.4" fill="#565656" stroke="#262626" stroke-width="1.8"/>
<circle cx="488.6" cy="1584.3" r="9.4" fill="#565656" stroke="#262626" stroke-width="1.8"/>
<circle cx="503.6" cy="1585.0" r="9.4" fill="#565656" stroke="#262626" stroke-width="1.8"/>
<circle cx="520.3" cy="1589.3" r="9.4" fill="#565656" stroke="#262626" stroke-width="1.8"/>
<circle cx="535.4" cy="1606.9" r="9.4" fill="#565656" stroke="#262626" stroke-width="1.8"/>
<circle cx="550.4" cy="1624.0" r="9.4" fill="#565656" stroke="#262626" stroke-width="1.8"/>
<circle cx="567.0" cy="1629.0" r="9.4" fill="#565656" stroke="#262626" stroke-width="1.8"/>
<circle cx="580.0" cy="1630.0" r="9.4" fill="#565656" stroke="#262626" stroke-width="1.8"/>
<circle cx="592.0" cy="1632.0" r="9.4" fill="#565656" stroke="#262626" stroke-width="1.8"/>
<circle cx="603.2" cy="1636.4" r="9.4" fill="#565656" stroke="#262626" stroke-width="1.8"/>
<circle cx="614.0" cy="1638.0" r="9.4" fill="#565656" stroke="#262626" stroke-width="1.8"/>
<circle cx="624.0" cy="1639.5" r="9.4" fill="#565656" stroke="#262626" stroke-width="1.8"/>
<circle cx="634.0" cy="1644.0" r="9.4" fill="#565656" stroke="#262626" stroke-width="1.8"/>
<circle cx="646.2" cy="1651.0" r="9.3" fill="#686868" stroke="#333" stroke-width="1.8"/>
<circle cx="668.2" cy="1651.0" r="9.3" fill="#686868" stroke="#333" stroke-width="1.8"/>
<circle cx="691.0" cy="1651.0" r="9.3" fill="#686868" stroke="#333" stroke-width="1.8"/>
<circle cx="714.2" cy="1651.0" r="9.3" fill="#686868" stroke="#333" stroke-width="1.8"/>
<circle cx="739.0" cy="1651.0" r="9.3" fill="#686868" stroke="#333" stroke-width="1.8"/>
<circle cx="764.5" cy="1651.0" r="9.3" fill="#686868" stroke="#333" stroke-width="1.8"/>
<circle cx="791.2" cy="1651.0" r="9.3" fill="#686868" stroke="#333" stroke-width="1.8"/>
<circle cx="820.5" cy="1651.0" r="9.3" fill="#686868" stroke="#333" stroke-width="1.8"/>
<circle cx="851.0" cy="1651.0" r="9.3" fill="#686868" stroke="#333" stroke-width="1.8"/>
<circle cx="881.6" cy="1651.0" r="9.3" fill="#686868" stroke="#333" stroke-width="1.8"/>
<circle cx="914.3" cy="1651.0" r="9.3" fill="#686868" stroke="#333" stroke-width="1.8"/>
<circle cx="947.7" cy="1651.0" r="9.3" fill="#686868" stroke="#333" stroke-width="1.8"/>
<circle cx="983.5" cy="1651.0" r="9.3" fill="#686868" stroke="#333" stroke-width="1.8"/>
<circle cx="1020.5" cy="1651.0" r="9.3" fill="#686868" stroke="#333" stroke-width="1.8"/>
<circle cx="1055.0" cy="1651.0" r="9.3" fill="#686868" stroke="#333" stroke-width="1.8"/>
<circle cx="657.0" cy="1652.0" r="9.3" fill="#686868" stroke="#333" stroke-width="1.8"/>
<circle cx="702.0" cy="1653.0" r="9.3" fill="#686868" stroke="#333" stroke-width="1.8"/>
<circle cx="727.0" cy="1653.0" r="9.3" fill="#686868" stroke="#333" stroke-width="1.8"/>
<circle cx="752.0" cy="1653.5" r="9.3" fill="#686868" stroke="#333" stroke-width="1.8"/>
</g>
<line x1="199.0" y1="966.5" x2="199.0" y2="1659.5" stroke="#222" stroke-width="2.8"/>
<line x1="183.0" y1="1658.5" x2="1059.0" y2="1658.5" stroke="#222" stroke-width="2.8"/>
</g>
</g>
</svg>
</body>
</html>
